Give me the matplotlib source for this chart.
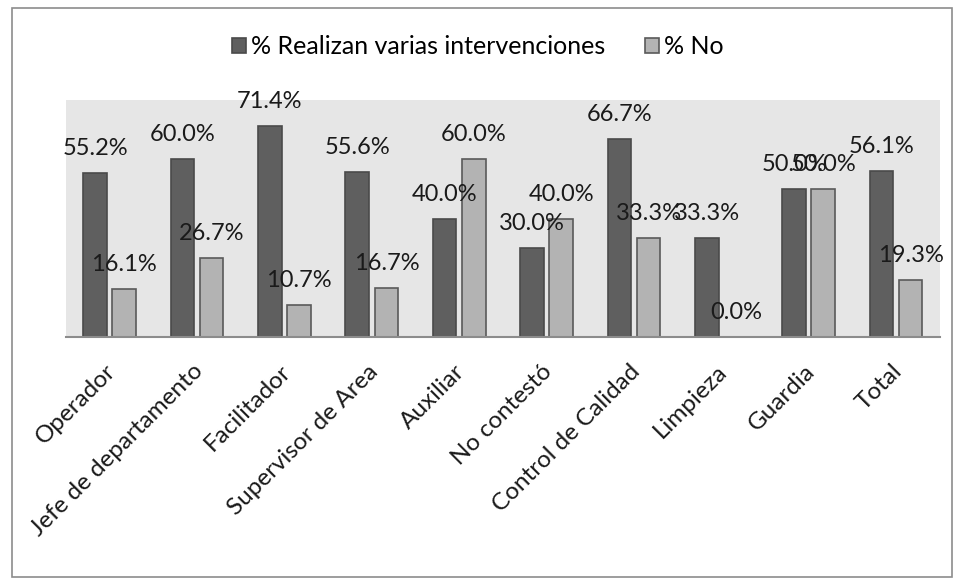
import matplotlib.pyplot as plt
from matplotlib.patches import Rectangle
from matplotlib.transforms import ScaledTranslation
import numpy as np

categories = ['Operador', 'Jefe de departamento', 'Facilitador', 'Supervisor de Area',
              'Auxiliar', 'No contestó', 'Control de Calidad', 'Limpieza', 'Guardia', 'Total']
realizan = [55.2, 60.0, 71.4, 55.6, 40.0, 30.0, 66.7, 33.3, 50.0, 56.1]
no = [16.1, 26.7, 10.7, 16.7, 60.0, 40.0, 33.3, 0.0, 50.0, 19.3]
series_names = ['% Realizan varias intervenciones', '% No']

plt.rcParams['font.family'] = ['Lato', 'DejaVu Sans']

fig = plt.figure(figsize=(9.56, 5.8), dpi=100)
ax = fig.add_axes([0.069, 0.419, 0.914, 0.4085])
ax.set_facecolor('#e6e6e6')

# outer chart border
fig.patches.append(Rectangle((0.013, 0.006), 0.983, 0.981, transform=fig.transFigure,
                             fill=False, edgecolor='#8c8c8c', linewidth=1.2))

x = np.arange(len(categories))
w = 0.27
off = 0.167
b1 = ax.bar(x - off, realizan, w, color='#5f5f5f', edgecolor='#4a4a4a', linewidth=1.2,
            label=series_names[0])
b2 = ax.bar(x + off, no, w, color='#b3b3b3', edgecolor='#5a5a5a', linewidth=1.2,
            label=series_names[1])

for bars, vals in [(b1, realizan), (b2, no)]:
    for bar, v in zip(bars, vals):
        ax.annotate('%.1f%%' % v, (bar.get_x() + bar.get_width() / 2, v),
                    xytext=(0, 18), textcoords='offset pixels',
                    ha='center', va='baseline', fontsize=17, color='#1a1a1a')

ax.set_ylim(0, 80)
ax.set_xlim(-0.5, len(categories) - 0.5)
ax.set_yticks([])
ax.set_xticks(x)
ax.set_xticklabels(categories, rotation=45, ha='right', va='top',
                   rotation_mode='anchor', fontsize=17.5, color='#1a1a1a')
ax.tick_params(axis='x', length=0, pad=17)
shift = ScaledTranslation(-0.05, 0, fig.dpi_scale_trans)
for lbl in ax.get_xticklabels():
    lbl.set_transform(lbl.get_transform() + shift)
for s in ['top', 'left', 'right']:
    ax.spines[s].set_visible(False)
ax.spines['bottom'].set_color('#8c8c8c')
ax.spines['bottom'].set_linewidth(1.5)

fig.legend(loc='center', bbox_to_anchor=(0.5, 0.92), ncol=2, frameon=False,
           fontsize=18, handlelength=0.55, handleheight=0.55, handletextpad=0.2,
           columnspacing=1.6)

plt.savefig('out.png', dpi=100)
